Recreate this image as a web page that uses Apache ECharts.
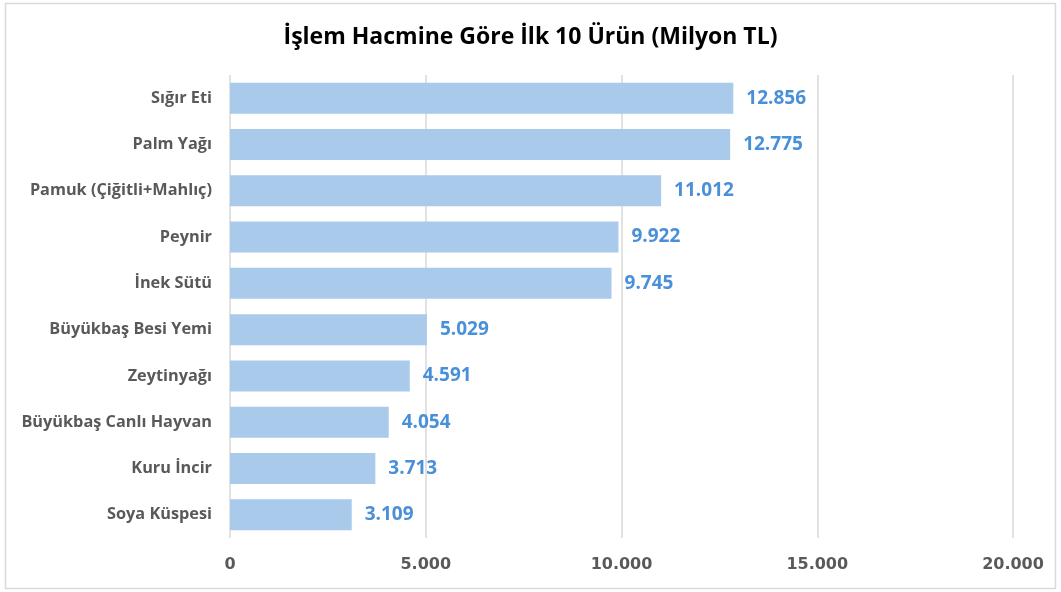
<!DOCTYPE html>
<html>
<head>
<meta charset="utf-8">
<script src="https://cdn.jsdelivr.net/npm/echarts@6/dist/echarts.min.js"></script>
<style>html,body{margin:0;padding:0;background:#fff}#c{width:1061px;height:592px}</style>
</head>
<body>
<div id="c"></div>
<script>
const categories = ["Sığır Eti","Palm Yağı","Pamuk (Çiğitli+Mahlıç)","Peynir","İnek Sütü","Büyükbaş Besi Yemi","Zeytinyağı","Büyükbaş Canlı Hayvan","Kuru İncir","Soya Küspesi"];
const values = [12856,12775,11012,9922,9745,5029,4591,4054,3713,3109];
const titleText = "İşlem Hacmine Göre İlk 10 Ürün (Milyon TL)";

function fmt(v){ return String(Math.round(v)).replace(/\B(?=(\d{3})+(?!\d))/g, "."); }

const chart = echarts.init(document.getElementById('c'));
chart.setOption({
  animation: false,
  backgroundColor: '#fff',
  title: {
    text: titleText, left: 'center', top: 21,
    textStyle: { fontFamily: 'Open Sans', fontWeight: 'bold', fontSize: 23, color: '#000' }
  },
  graphic: [{
    type: 'rect', shape: { x: 5.5, y: 3.5, width: 1050, height: 585 },
    style: { fill: 'none', stroke: '#d9d9d9', lineWidth: 1.5 }, silent: true, z: -1
  }],
  grid: { left: 230, right: 48, top: 75, bottom: 54 },
  xAxis: {
    type: 'value', min: 0, max: 20000, interval: 5000,
    axisLine: { show: false }, axisTick: { show: false },
    splitLine: { lineStyle: { color: '#d9d9d9', width: 1.5 } },
    axisLabel: { formatter: fmt, color: '#595959', fontFamily: 'DejaVu Sans', fontWeight: 'bold', fontSize: 16, margin: 19 }
  },
  yAxis: {
    type: 'category', data: categories, inverse: true,
    axisLine: { show: false }, axisTick: { show: false },
    axisLabel: { color: '#595959', fontFamily: 'Open Sans', fontWeight: 'bold', fontSize: 16.3, margin: 18 }
  },
  series: [{
    type: 'bar', data: values, barWidth: '67%',
    itemStyle: { color: '#a9caeb' },
    label: { show: true, position: 'right', distance: 13, formatter: p => fmt(p.value),
      color: '#4a90d9', fontFamily: 'Open Sans', fontWeight: 'bold', fontSize: 19 }
  }]
});
</script>
</body>
</html>
